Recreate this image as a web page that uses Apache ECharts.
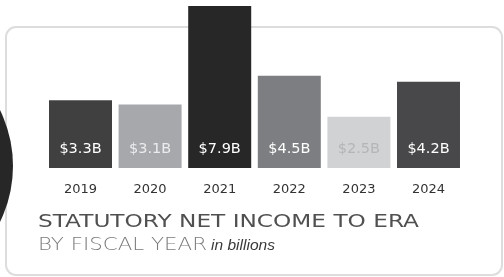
<!DOCTYPE html>
<html>
<head>
<meta charset="utf-8">
<script src="https://cdn.jsdelivr.net/npm/echarts@6/dist/echarts.min.js"></script>
<style>
  html, body { margin: 0; padding: 0; background: #fff; }
  #chart { width: 504px; height: 277px; }
</style>
</head>
<body>
<div id="chart"></div>
<script>
// fiscal years and statutory net income (billions)
const years = ['2019', '2020', '2021', '2022', '2023', '2024'];
const income = [3.3, 3.1, 7.9, 4.5, 2.5, 4.2];
const barColors = ['#404040', '#a7a8ab', '#282728', '#7d7e81', '#d1d2d4', '#48484a'];
const labelColors = ['#ffffff', '#ececee', '#ffffff', '#ffffff', '#b4b5b7', '#ffffff'];
const titleText = 'STATUTORY NET INCOME TO ERA';
const subText = 'BY FISCAL YEAR';
const unitText = 'in billions';

const chart = echarts.init(document.getElementById('chart'));

// the original uses a wide geometric face, so stretch the local font to the same width
const ctx = document.createElement('canvas').getContext('2d');
const stretch = (text, font, width) => {
  ctx.font = font;
  return width / ctx.measureText(text).width;
};
const titleFont = '17px "DejaVu Sans"';
const subFont = '200 17px "DejaVu Sans"';
const unitFont = 'italic 15px "Liberation Sans"';

const option = {
  animation: false,
  grid: { left: 45.7, right: 40.7, top: 6, bottom: 109 },
  graphic: [
    {
      type: 'rect', z: 0,
      shape: { x: 6, y: 27, width: 496, height: 248, r: 10 },
      style: { fill: '#ffffff', stroke: '#dddddd', lineWidth: 2 }
    },
    {
      type: 'circle', z: 1,
      shape: { cx: -114, cy: 166, r: 127 },
      style: { fill: '#282728' }
    },
    {
      type: 'text', z: 5, x: 38, y: 223,
      scaleX: stretch(titleText, titleFont, 381),
      style: { text: titleText, font: titleFont, fill: '#505050', verticalAlign: 'middle' }
    },
    {
      type: 'text', z: 5, x: 38, y: 246,
      scaleX: stretch(subText, subFont, 169),
      style: { text: subText, font: subFont, fill: '#7a7a7a', verticalAlign: 'middle' }
    },
    {
      type: 'text', z: 5, x: 211, y: 246,
      scaleX: stretch(unitText, unitFont, 64),
      style: { text: unitText, font: unitFont, fill: '#3a3a3a', verticalAlign: 'middle' }
    }
  ],
  xAxis: {
    type: 'category',
    data: years,
    axisLine: { show: false },
    axisTick: { show: false },
    axisLabel: { margin: 15, fontFamily: 'DejaVu Sans', fontSize: 13, color: '#333333' }
  },
  yAxis: {
    type: 'value', min: 0, max: 7.9, show: false,
    splitLine: { show: false }
  },
  series: [{
    type: 'bar',
    z: 3,
    barWidth: 63,
    data: income.map((v, i) => ({
      value: v,
      itemStyle: { color: barColors[i] },
      label: { color: labelColors[i] }
    })),
    label: {
      show: true,
      position: 'insideBottom',
      distance: 11,
      fontFamily: 'DejaVu Sans',
      fontSize: 14.5,
      formatter: p => '$' + p.value.toFixed(1) + 'B'
    }
  }]
};

chart.setOption(option);
</script>
</body>
</html>
